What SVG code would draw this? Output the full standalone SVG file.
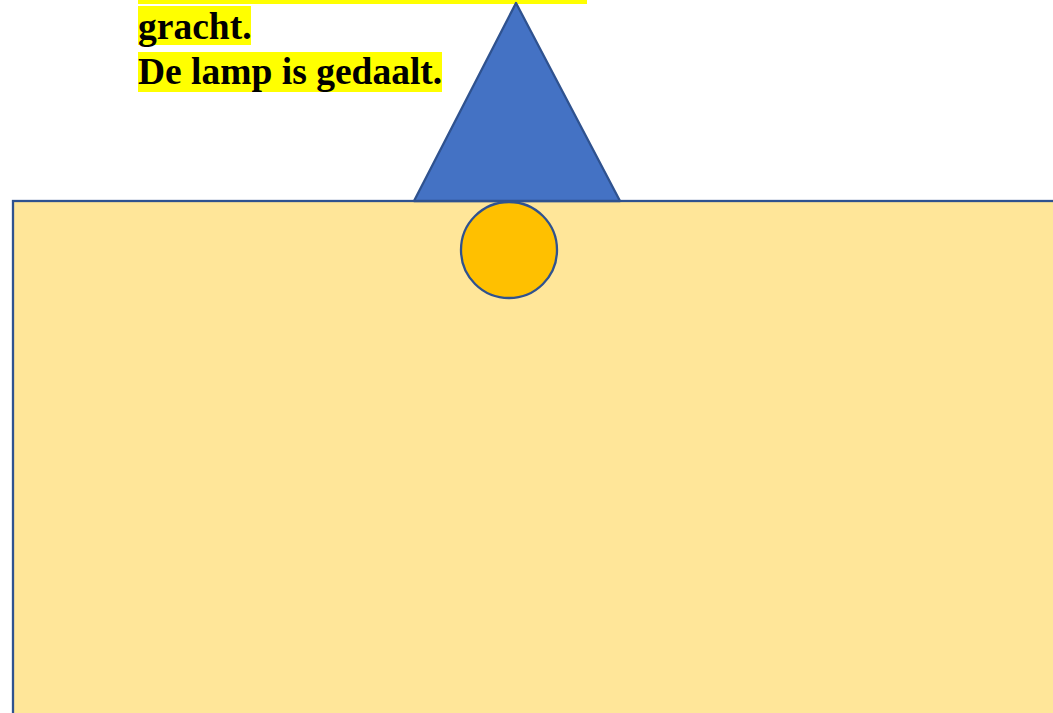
<svg xmlns="http://www.w3.org/2000/svg" width="1053" height="713" viewBox="0 0 1053 713">
<style>
.hl{fill:#FFFF00}
.t{font-family:"Liberation Serif","Times New Roman",serif;font-weight:bold;font-size:37.5px;fill:#000}
.ln{stroke:#2F528F;stroke-width:2.3}
</style>
<rect width="1053" height="713" fill="#FFFFFF"/>
<g id="text">
<rect class="hl" x="138" y="0" width="449" height="4"/>
<rect class="hl" x="138" y="6" width="113" height="39"/>
<rect class="hl" x="138" y="52" width="304" height="40"/>
<text class="t" x="138" y="39">gracht.</text>
<text class="t" x="138" y="84">De lamp is gedaalt.</text>
</g>
<g id="water">
<rect class="ln" x="13" y="201" width="1050" height="530" fill="#FFE699"/>
</g>
<g id="lampshade">
<polygon class="ln" points="516,3 620,201 414,201" fill="#4472C4" stroke-linejoin="round"/>
</g>
<g id="lamp">
<circle class="ln" cx="509" cy="250" r="48" fill="#FFC000"/>
</g>
<g id="connectors"></g>
</svg>
